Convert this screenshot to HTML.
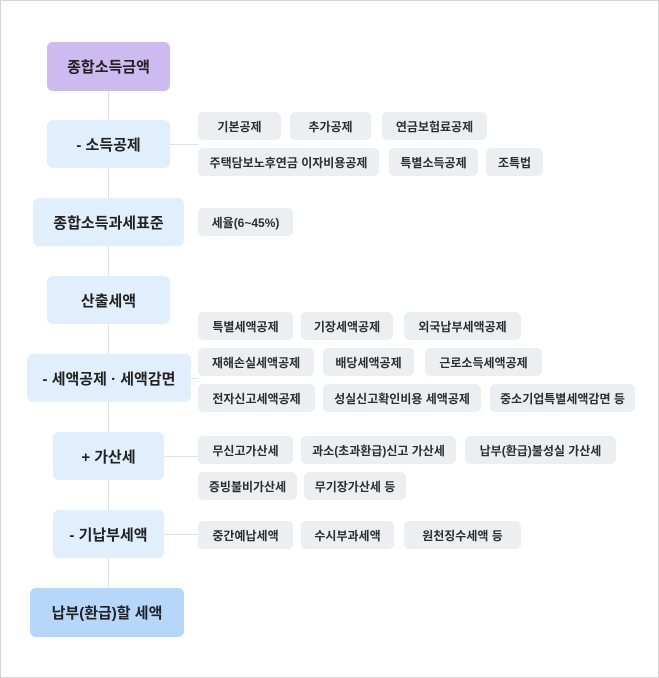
<!DOCTYPE html>
<html><head><meta charset="utf-8"><style>
html,body{margin:0;padding:0;background:#fff}
#c{position:relative;width:657px;height:676px;border:1px solid #d4d4d4;overflow:hidden;font-family:"Liberation Sans","Noto Sans CJK KR",sans-serif}
.m{position:absolute;display:flex;align-items:center;justify-content:center;background:#e1effd;border-radius:6px;font-weight:700;font-size:15px;color:#222}
.t{position:absolute;height:28px;display:flex;align-items:center;justify-content:center;background:#eceef1;border-radius:5px;font-size:12px;font-weight:600;color:#2e2e2e;white-space:nowrap}
.v{position:absolute;left:107px;width:1px;background:#dfe3e8}
.h{position:absolute;height:1px;background:#dfe3e8}
</style></head><body><div id="c">
<div class="v" style="top:60px;height:550px"></div>
<div class="h" style="left:169px;top:143px;width:28px"></div>
<div class="h" style="left:190px;top:377px;width:7px"></div>
<div class="h" style="left:163px;top:455px;width:34px"></div>
<div class="h" style="left:163px;top:533px;width:34px"></div>

<div class="m" style="left:46px;top:41px;width:123px;height:49px;background:#cdbaef">종합소득금액</div>
<div class="m" style="left:46px;top:119px;width:123px;height:48px">- 소득공제</div>
<div class="m" style="left:32px;top:197px;width:151px;height:48px">종합소득과세표준</div>
<div class="m" style="left:46px;top:275px;width:123px;height:48px">산출세액</div>
<div class="m" style="left:26px;top:353px;width:164px;height:48px">- 세액공제 · 세액감면</div>
<div class="m" style="left:52px;top:431px;width:111px;height:48px">+ 가산세</div>
<div class="m" style="left:52px;top:509px;width:111px;height:48px">- 기납부세액</div>
<div class="m" style="left:29px;top:587px;width:154px;height:49px;background:#b6d6fa">납부(환급)할 세액</div>

<div class="t" style="left:197px;top:111px;width:83px">기본공제</div>
<div class="t" style="left:289px;top:111px;width:81px">추가공제</div>
<div class="t" style="left:381px;top:111px;width:105px">연금보험료공제</div>
<div class="t" style="left:197px;top:147px;width:181px">주택담보노후연금 이자비용공제</div>
<div class="t" style="left:388px;top:147px;width:89px">특별소득공제</div>
<div class="t" style="left:485px;top:147px;width:57px">조특법</div>

<div class="t" style="left:197px;top:207px;width:95px">세율(6~45%)</div>

<div class="t" style="left:197px;top:311px;width:95px">특별세액공제</div>
<div class="t" style="left:300px;top:311px;width:92px">기장세액공제</div>
<div class="t" style="left:403px;top:311px;width:117px">외국납부세액공제</div>
<div class="t" style="left:197px;top:347px;width:116px">재해손실세액공제</div>
<div class="t" style="left:322px;top:347px;width:91px">배당세액공제</div>
<div class="t" style="left:424px;top:347px;width:117px">근로소득세액공제</div>
<div class="t" style="left:197px;top:383px;width:117px">전자신고세액공제</div>
<div class="t" style="left:322px;top:383px;width:158px">성실신고확인비용 세액공제</div>
<div class="t" style="left:489px;top:383px;width:145px">중소기업특별세액감면 등</div>

<div class="t" style="left:197px;top:435px;width:95px">무신고가산세</div>
<div class="t" style="left:300px;top:435px;width:155px">과소(초과환급)신고 가산세</div>
<div class="t" style="left:464px;top:435px;width:151px">납부(환급)불성실 가산세</div>
<div class="t" style="left:197px;top:471px;width:99px">증빙불비가산세</div>
<div class="t" style="left:303px;top:471px;width:102px">무기장가산세 등</div>

<div class="t" style="left:197px;top:520px;width:95px">중간예납세액</div>
<div class="t" style="left:300px;top:520px;width:93px">수시부과세액</div>
<div class="t" style="left:403px;top:520px;width:117px">원천징수세액 등</div>
</div></body></html>
